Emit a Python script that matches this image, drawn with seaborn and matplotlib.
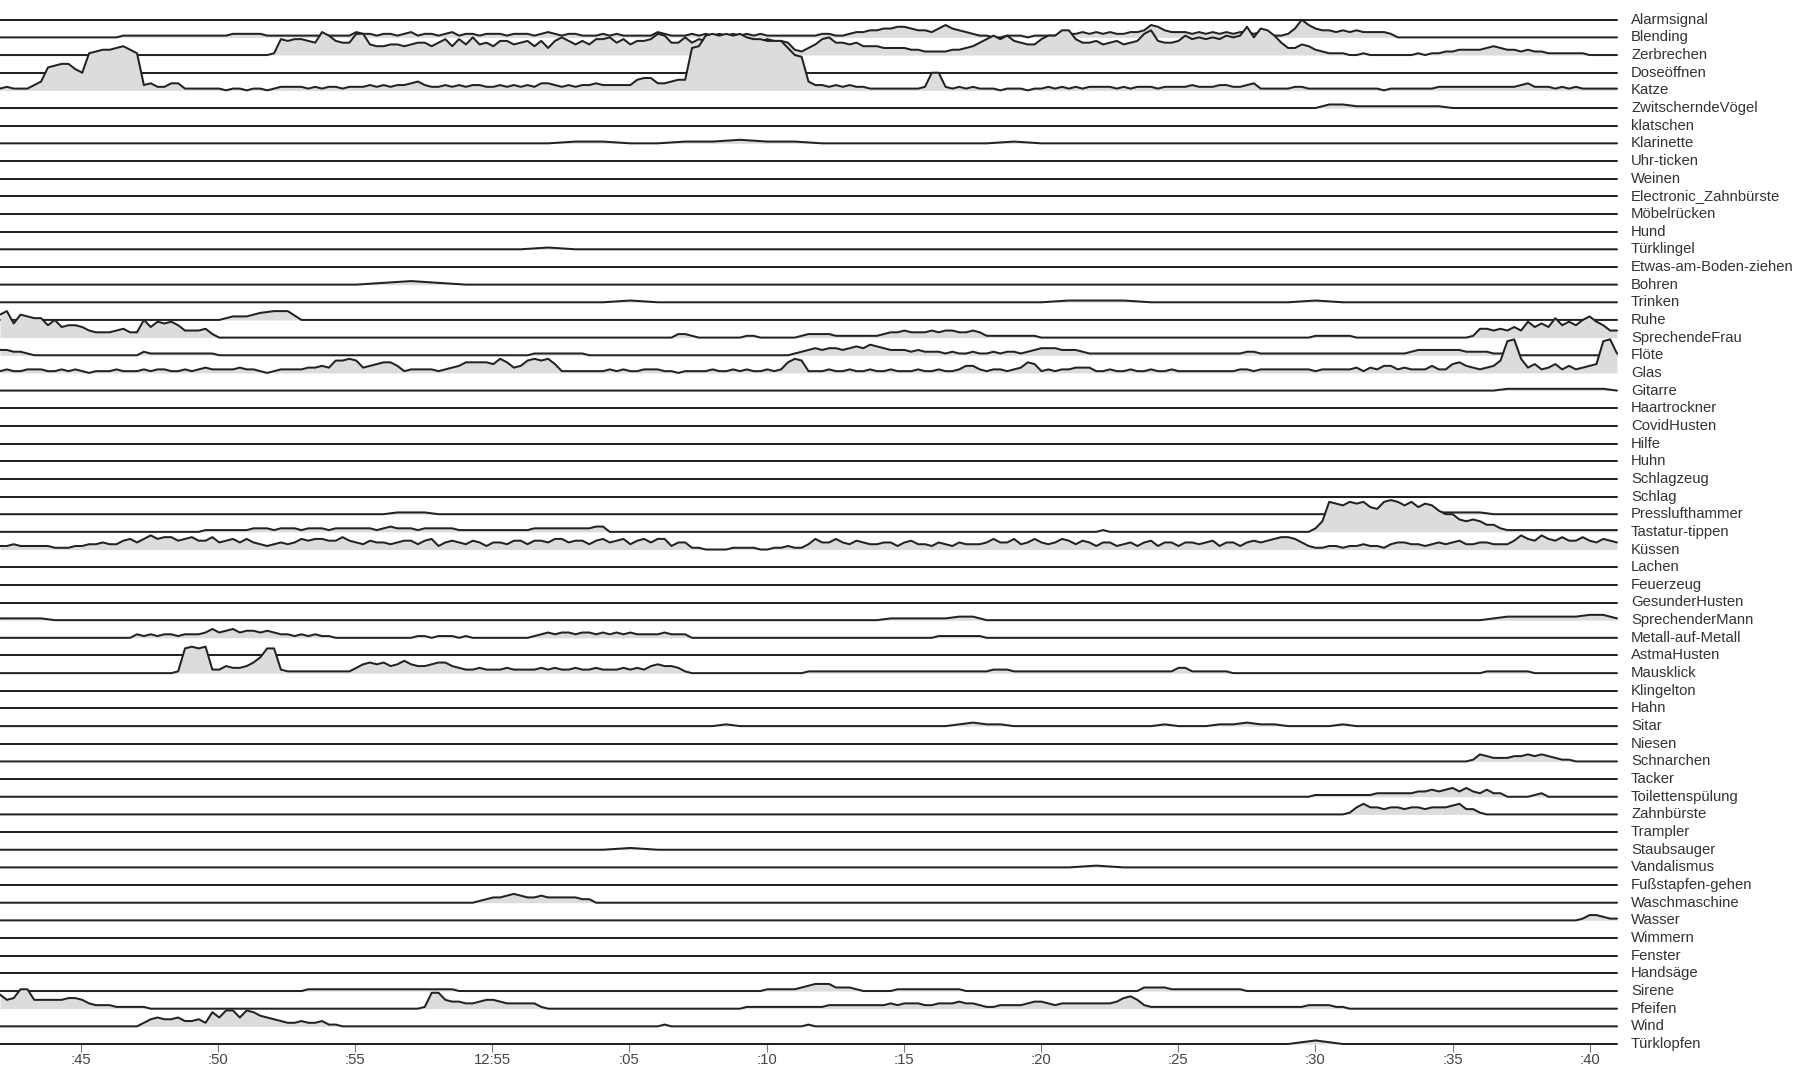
# Ridgeline of sound-class activity over one hour, one row per class

import numpy as np
import pandas as pd
import matplotlib
matplotlib.use('Agg')
import matplotlib.pyplot as plt
import matplotlib.transforms as mtransforms
import seaborn as sns

# Row labels, top to bottom
sounds = ['Alarmsignal', 'Blending', 'Zerbrechen', 'Doseöffnen', 'Katze',
          'ZwitscherndeVögel', 'klatschen', 'Klarinette', 'Uhr-ticken', 'Weinen',
          'Electronic_Zahnbürste', 'Möbelrücken', 'Hund', 'Türklingel',
          'Etwas-am-Boden-ziehen', 'Bohren', 'Trinken', 'Ruhe', 'SprechendeFrau',
          'Flöte', 'Glas', 'Gitarre', 'Haartrockner', 'CovidHusten', 'Hilfe', 'Huhn',
          'Schlagzeug', 'Schlag', 'Presslufthammer', 'Tastatur-tippen', 'Küssen',
          'Lachen', 'Feuerzeug', 'GesunderHusten', 'SprechenderMann',
          'Metall-auf-Metall', 'AstmaHusten', 'Mausklick', 'Klingelton', 'Hahn',
          'Sitar', 'Niesen', 'Schnarchen', 'Tacker', 'Toilettenspülung', 'Zahnbürste',
          'Trampler', 'Staubsauger', 'Vandalismus', 'Fußstapfen-gehen',
          'Waschmaschine', 'Wasser', 'Wimmern', 'Fenster', 'Handsäge', 'Sirene',
          'Pfeifen', 'Wind', 'Türklopfen']

# Activity level per row, one base-36 digit per sample (tenths of a row height),
# samples evenly spread over the hour; spaces only group the 5-minute blocks.
# 60 digits = one per minute, 119 = one per 30 s, 237 = one per 15 s.
series = [
    # Alarmsignal
    "0000000000000",
    # Blending
    "000000000000 00000011111111111111 11222221111111111111 32212212312212312212 "
    "22122212321221112121 11113211121212121212 11111111221123344556 65443575432110011101 "
    "11122232323223347643 332323232332321125a7 54434343333200000000 00000000000000000000 00000",
    # Zerbrechen
    "000000000000 00000000000000000000 000000001989987db877 cc655665677579596a67 "
    "5886785848a868699a79 6889cb77a79898988988 988732469a7767555444 4332222334579b9b8766 "
    "9bbee9778678678ce877 8b9a9a9babgafeb74465 32111001000000010112 23333454332322111111 00000",
    # Doseöffnen
    "0000000000000",
    # Katze
    "1211135deffc almnnopnl34224411111 10110110122221212212 22323233453223232332 "
    "23232324432323343333 367744566opvwvwvwutt sssokj53323232211111 1112aa21212111011101 "
    "12121212222121222122 22322233223411111221 11111111110111111122 22222222223422212121 11111",
    # ZwitscherndeVögel
    "000000 0000000000 0000000000 0000000000 0000000000 0000000000 0000000000 0000000000 "
    "0000000000 0000000000 0221111111 0000000000 000",
    # klatschen
    "0000000000000",
    # Klarinette
    "000 00000 00000 00000 00011 00112 11000 00001 00000 00000 00000 00000 00",
    # Uhr-ticken
    "0000000000000",
    # Weinen
    "0000000000000",
    # Electronic_Zahnbürste
    "0000000000000",
    # Möbelrücken
    "0000000000000",
    # Hund
    "0000000000000",
    # Türklingel
    "000 00000 00000 00000 00100 00000 00000 00000 00000 00000 00000 00000 00",
    # Etwas-am-Boden-ziehen
    "0000000000000",
    # Bohren
    "000 00000 00000 01210 00000 00000 00000 00000 00000 00000 00000 00000 00",
    # Trinken
    "000 00000 00000 00000 00000 10000 00000 00000 01110 00000 10000 00000 00",
    # Ruhe
    "000000 0000000000 0224550000 0000000000 0000000000 0000000000 0000000000 0000000000 "
    "0000000000 0000000000 0000000000 0000000000 000",
    # SprechendeFrau
    "df8dcbb7a677 643334533a6989744452 00000000000000000000 00000000000000000000 "
    "00000000000000000000 00000002210000000110 00000122221111111233 43334344334311111111 "
    "00000000000000000000 00000000000000000000 11111100000000000000 000155454649686b797a c9744",
    # Flöte
    "332210000000 00000000021111111111 00000000000000000000 00000000000000000000 "
    "00000011111111000000 00000000000000000000 00001234344345465433 32322212112112122123 "
    "44433321111111111111 11111111112211111111 11111111111111233333 33222211110000000000 00000",
    # Glas
    "121122211212 10111211121221121232 22232210122223343778 73456641222212346666 "
    "58634787851111111212 11222110111121121211 21268711121121121121 11211211244212212365 "
    "12122333112112112112 11111111122122222222 12222231324423222422 56432347ij8352352423 45ijb",
    # Gitarre
    "000000 0000000000 0000000000 0000000000 0000000000 0000000000 0000000000 0000000000 "
    "0000000000 0000000000 0000000000 0000111111 110",
    # Haartrockner
    "0000000000000",
    # CovidHusten
    "0000000000000",
    # Hilfe
    "0000000000000",
    # Huhn
    "0000000000000",
    # Schlagzeug
    "0000000000000",
    # Schlag
    "0000000000000",
    # Presslufthammer
    "000000 0000000000 0000000000 0001110000 0000000000 0000000000 0000000000 0000000000 "
    "0000000000 0000000000 0000000001 1110000000 000",
    # Tastatur-tippen
    "000000000000 00000000000000000011 11111222122212221222 22212322212222211111 "
    "11111122222222233000 00000000000000000000 00000000000000000000 00000000000000000000 "
    "00000000010000000000 00000000000000000000 26hgfhghedhihfhegfca a7676442111111111111 11111",
    # Küssen
    "223222221112 23343356468677567557 45646432343465665575 43544345535624543542 "
    "44355355466455356456 35646624411000011110 01121136446435433442 45332432433346446346 "
    "43465354244234245244 24434524424545677642 11221223221344332343 45334433358658657557 54654",
    # Lachen
    "0000000000000",
    # Feuerzeug
    "0000000000000",
    # GesunderHusten
    "0000000000000",
    # SprechenderMann
    "111100 0000000000 0000000000 0000000000 0000000000 0000000000 0000000001 1111220000 "
    "0000000000 0000000000 0000000000 0001222222 331",
    # Metall-auf-Metall
    "000000000000 00000000212122122235 34534434322121211000 00000000011011101000 "
    "00000012323323323232 32222322200000000000 00000000000000000000 00000111111100000000 "
    "00000000000000000000 00000000000000000000 00000000000000000000 00000000000000000000 00000",
    # AstmaHusten
    "0000000000000",
    # Mausklick
    "000000000000 000000000000001efef2 2433469ee21111111111 35656457544566432232 "
    "22322223232232232223 23245443100000000000 00000011111111111111 11111111111112221111 "
    "11111111111111111111 33111111000000000000 00000000000000000000 00000111111100000000 00000",
    # Klingelton
    "0000000000000",
    # Hahn
    "0000000000000",
    # Sitar
    "000000 0000000000 0000000000 0000000000 0000000000 0000000100 0000000000 0000121100 "
    "0000000001 0001121100 0010000000 0000000000 000",
    # Niesen
    "0000000000000",
    # Schnarchen
    "000000000000 00000000000000000000 00000000000000000000 00000000000000000000 "
    "00000000000000000000 00000000000000000000 00000000000000000000 00000000000000000000 "
    "00000000000000000000 00000000000000000000 00000000000000000000 00014322233434321100 00000",
    # Tacker
    "0000000000000",
    # Toilettenspülung
    "000000000000 00000000000000000000 00000000000000000000 00000000000000000000 "
    "00000000000000000000 00000000000000000000 00000000000000000000 00000000000000000000 "
    "00000000000000000000 00000000000000000000 11111111122222233434 53532422000012000000 00000",
    # Zahnbürste
    "000000000000 00000000000000000000 00000000000000000000 00000000000000000000 "
    "00000000000000000000 00000000000000000000 00000000000000000000 00000000000000000000 "
    "00000000000000000000 00000000000000000000 00000146443443443444 56331000000000000000 00000",
    # Trampler
    "0000000000000",
    # Staubsauger
    "000 00000 00000 00000 00000 10000 00000 00000 00000 00000 00000 00000 00",
    # Vandalismus
    "000 00000 00000 00000 00000 00000 00000 00000 00100 00000 00000 00000 00",
    # Fußstapfen-gehen
    "0000000000000",
    # Waschmaschine
    "000000000000 00000000000000000000 00000000000000000000 00000000000000000012 "
    "33454334333332200000 00000000000000000000 00000000000000000000 00000000000000000000 "
    "00000000000000000000 00000000000000000000 00000000000000000000 00000000000000000000 00000",
    # Wasser
    "000000000000 00000000000000000000 00000000000000000000 00000000000000000000 "
    "00000000000000000000 00000000000000000000 00000000000000000000 00000000000000000000 "
    "00000000000000000000 00000000000000000000 00000000000000000000 00000000000000000001 33211",
    # Wimmern
    "0000000000000",
    # Fenster
    "0000000000000",
    # Handsäge
    "0000000000000",
    # Sirene
    "000000000000 00000000000000000000 00000000000001111111 11111111111111100000 "
    "00000000000000000000 00000000000000000000 11111234442221000001 11111111100000000000 "
    "00000000000000022221 11111111110000000000 00000000000000000000 00000000000000000000 00000",
    # Pfeifen
    "856bb5555566 53222111110000000000 00000000000000000000 00000000001995443345 "
    "54333331000000000000 00000000000000000111 11111111122222222232 33322333433211222234 "
    "43233333333467521111 11111111111111111112 22211000000000000000 00000000000000000000 00000",
    # Wind
    "000000000000 00000000024544533428 59959865432232231100 00000000000000000000 "
    "00000000000000000000 00000100000000000000 00000010000000000000 00000000000000000000 "
    "00000000000000000000 00000000000000000000 00000000000000000000 00000000000000000000 00000",
    # Türklopfen
    "000 00000 00000 00000 00000 00000 00000 00000 00000 00000 20000 00000 00",
]

# x axis: minutes after 12:00
tick_minutes = [45, 50, 55, 60, 65, 70, 75, 80, 85, 90, 95, 100]
tick_labels = [':45', ':50', ':55', '12:55', ':05', ':10', ':15', ':20', ':25', ':30', ':35', ':40']

T_START = 42.06
T_END = 100.99

sns.set_theme(style='white')
plt.rcParams['font.family'] = ['Liberation Sans', 'DejaVu Sans']

# one row is 17.66 px; bottom row baseline sits at y = 1044 px from the top
ROW_PX = 17.66
Y_BOTTOM = -58.25
ax_bottom_px = 1044 + (-58 - Y_BOTTOM) * ROW_PX
ax_top_rows = 1044 / ROW_PX - 58

fig = plt.figure(figsize=(18.07, 10.81), dpi=100)
ax = fig.add_axes([0, (1081 - ax_bottom_px) / 1081, 1617 / 1807, ax_bottom_px / 1081])
label_tf = mtransforms.blended_transform_factory(ax.transAxes, ax.transData)

for r, (name, levels) in enumerate(zip(sounds, series)):
    vals = np.array([int(c, 36) for c in levels.replace(' ', '')]) * 0.1
    t = np.linspace(T_START, T_END, len(vals))
    row_df = pd.DataFrame({'time': t, 'y': vals - r})

    ax.fill_between(t, -r, vals - r, color='#dcdcdc', linewidth=0,
                    zorder=10 + 2 * r, clip_on=False)
    sns.lineplot(data=row_df, x='time', y='y', ax=ax, color='#222222',
                 linewidth=1.45, estimator=None, sort=False,
                 zorder=11 + 2 * r, clip_on=False)

    ax.text(1.0087, -r, name, transform=label_tf, ha='left', va='center',
            fontsize=10.7, color='#333333', clip_on=False)

ax.set_xlim(T_START, T_END)
ax.set_ylim(Y_BOTTOM, ax_top_rows)
ax.set_xticks(tick_minutes)
ax.set_xticklabels(tick_labels)
ax.set_yticks([])
ax.set(xlabel='', ylabel='')
for side in ['top', 'right', 'left', 'bottom']:
    ax.spines[side].set_visible(False)
ax.tick_params(axis='x', bottom=True, direction='inout', length=6, width=0.8,
               color='#777777', labelcolor='#444444', labelsize=10.7, pad=0.5)

fig.savefig('out.png', dpi=100)
plt.close()
